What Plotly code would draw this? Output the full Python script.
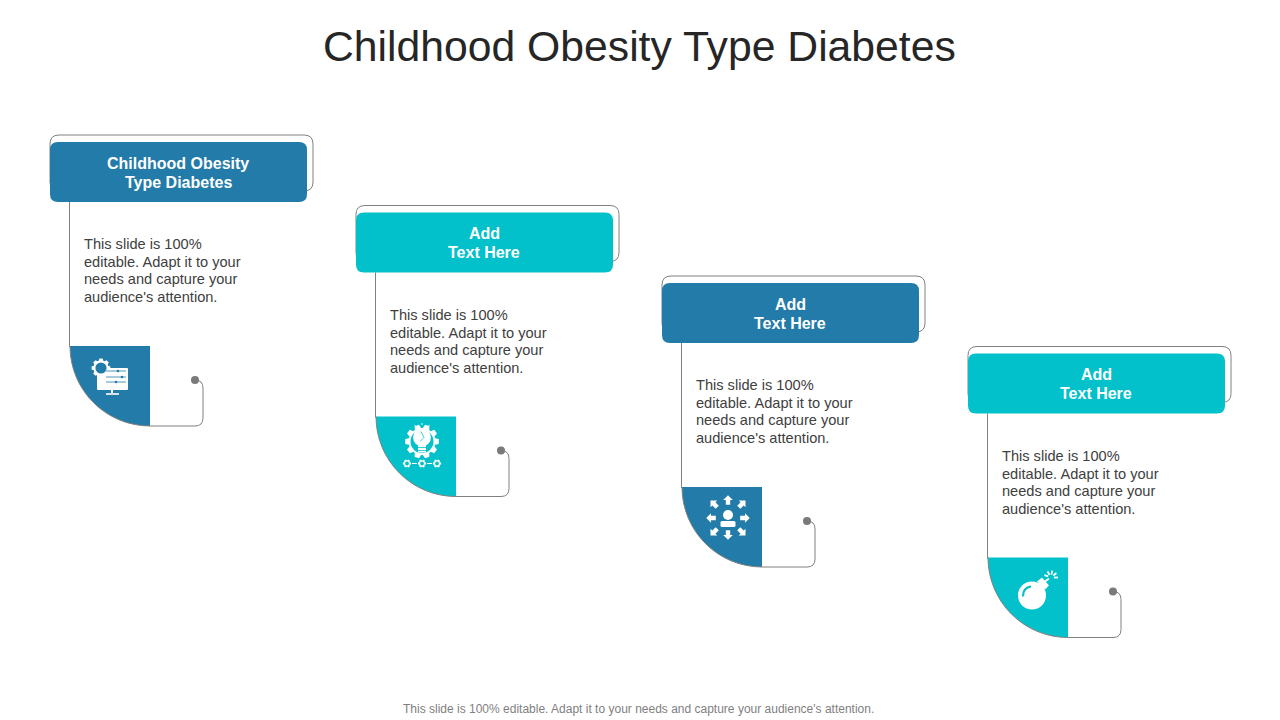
import math
import plotly.graph_objects as go

title = "Childhood Obesity Type Diabetes"
footer = "This slide is 100% editable. Adapt it to your needs and capture your audience's attention."
headers = [["Childhood Obesity", "Type Diabetes"], ["Add", "Text Here"], ["Add", "Text Here"], ["Add", "Text Here"]]
body_lines = ["This slide is 100%", "editable. Adapt it to your", "needs and capture your", "audience's attention."]
panel_x = [50, 356, 662, 968]
panel_y = [142, 212.5, 283, 353.5]
panel_colors = ["#227BA8", "#02C1CA", "#227BA8", "#02C1CA"]
line_color = "#808080"

shapes = []
notes = []


def add_path(d, fill=None, line=None, width=1):
    shapes.append(dict(type="path", path=d, fillcolor=fill if fill else "rgba(0,0,0,0)",
                       line=dict(color=line if line else "rgba(0,0,0,0)", width=width if line else 0)))


def rounded(x0, y0, x1, y1, r):
    return (f"M{x0+r},{y0} L{x1-r},{y0} Q{x1},{y0} {x1},{y0+r} L{x1},{y1-r} Q{x1},{y1} {x1-r},{y1} "
            f"L{x0+r},{y1} Q{x0},{y1} {x0},{y1-r} L{x0},{y0+r} Q{x0},{y0} {x0+r},{y0} Z")


def circle(cx, cy, r, fill=None, line=None, width=1):
    shapes.append(dict(type="circle", x0=cx-r, x1=cx+r, y0=cy-r, y1=cy+r,
                       fillcolor=fill if fill else "rgba(0,0,0,0)",
                       line=dict(color=line if line else "rgba(0,0,0,0)", width=width if line else 0)))


def gear(cx, cy, r_out, r_in, teeth, fill):
    pts = []
    for i in range(teeth):
        a = 2 * math.pi * i / teeth
        step = 2 * math.pi / teeth
        for da, r in [(-0.3, r_in), (-0.17, r_out), (0.17, r_out), (0.3, r_in)]:
            t = a + da * step * 1.3
            pts.append((cx + r * math.cos(t), cy + r * math.sin(t)))
    add_path("M" + " L".join(f"{x:.1f},{y:.1f}" for x, y in pts) + " Z", fill=fill)


def seg(x0, y0, x1, y1, color="white", width=1.5):
    shapes.append(dict(type="line", x0=x0, y0=y0, x1=x1, y1=y1, line=dict(color=color, width=width)))


def arrow(cx, cy, angle, size=4.8):
    c, s = math.cos(angle), math.sin(angle)
    local = [(size, 0), (0, -size), (0, -size*0.45), (-size, -size*0.45), (-size, size*0.45), (0, size*0.45), (0, size)]
    pts = [(cx + x*c - y*s, cy + x*s + y*c) for x, y in local]
    add_path("M" + " L".join(f"{x:.1f},{y:.1f}" for x, y in pts) + " Z", fill="white")


def icon_monitor(px, py, color):
    add_path(rounded(px+47, py+226, px+78, py+248, 1), fill="white")
    seg(px+62, py+248, px+62, py+251, width=2)
    seg(px+56, py+252, px+69, py+252, width=1.6)
    gear(px+51, py+226, 9.5, 7.5, 8, "white")
    circle(px+51, py+226, 5.6, fill=color)
    for yy, xx in [(py+229, px+68), (py+235, px+72), (py+240, px+66)]:
        seg(px+56, yy, px+76, yy, color=color, width=0.8)
        circle(xx, yy, 1.3, fill=color)


def icon_bulb(px, py, color):
    cx = px + 66
    gear(cx, py + 229, 17, 13.5, 10, "white")
    circle(cx, py + 229, 11.5, fill=color)
    circle(cx, py + 225, 9, fill="white")
    add_path(f"M{cx-4},{py+231} L{cx+4},{py+231} L{cx+4},{py+240} L{cx-4},{py+240} Z", fill="white")
    seg(cx-4, py+235, cx+4, py+235, color=color, width=0.8)
    seg(cx-4, py+238, cx+4, py+238, color=color, width=0.8)
    seg(cx-1, py+219, cx+2, py+225, color=color, width=0.8)
    seg(cx+2, py+225, cx-2, py+229, color=color, width=0.8)
    for a in [-150, -120, -90, -60, -30]:
        t = math.radians(a)
        seg(cx+12.5*math.cos(t), py+225+12.5*math.sin(t), cx+14.5*math.cos(t), py+225+14.5*math.sin(t), width=0.9)
    for dx in [-15, 0, 15]:
        gear(cx+dx, py+251, 4.2, 3.2, 6, "white")
        circle(cx+dx, py+251, 1.9, fill=color)
    seg(cx-10, py+251, cx-5, py+251, width=1)
    seg(cx+5, py+251, cx+10, py+251, width=1)


def icon_people(px, py, color):
    cx, cy = px + 66, py + 235
    circle(cx, cy-3, 5, fill="white")
    add_path(rounded(cx-7.5, cy+3, cx+7.5, cy+9, 1.5), fill="white")
    for a, d in [(-90, 18), (-45, 20), (0, 17), (45, 20), (90, 17), (135, 20), (180, 17), (-135, 20)]:
        t = math.radians(a)
        arrow(cx + d*math.cos(t), cy + d*math.sin(t), t)


def icon_bomb(px, py, color):
    cx, cy = px + 64, py + 242
    circle(cx, cy, 14, fill="white")
    add_path(f"M{cx+5},{cy-14} L{cx+10},{cy-18} L{cx+17},{cy-10} L{cx+13},{cy-6} Z", fill="white")
    seg(cx+13, cy-14, cx+17, cy-17, width=1.6)
    add_path(f"M{cx-9},{cy+1} Q{cx-9},{cy-8} {cx-1},{cy-9}", line=color, width=2.2)
    for a in [-160, -120, -80, -40, 0]:
        t = math.radians(a)
        sx, sy = cx + 19, cy - 18
        seg(sx+3*math.cos(t), sy+3*math.sin(t), sx+7*math.cos(t), sy+7*math.sin(t), width=1.8)


icons = [icon_monitor, icon_bulb, icon_people, icon_bomb]

for x, y, color, head, icon in zip(panel_x, panel_y, panel_colors, headers, icons):
    # outline behind the header
    add_path(rounded(x, y-7, x+263, y+49, 9), line=line_color, width=1)
    add_path(rounded(x, y, x+257, y+60, 8), fill=color)
    # stem, quarter circle and tail
    seg(x+19.5, y+60, x+19.5, y+205, color=line_color, width=1)
    k = 80 * 0.5523
    arc = f"C{x+20},{y+204+k} {x+100-k},{y+284} {x+100},{y+284}"
    add_path(f"M{x+20},{y+204} L{x+100},{y+204} L{x+100},{y+284} C{x+100-k},{y+284} {x+20},{y+204+k} {x+20},{y+204} Z", fill=color)
    add_path(f"M{x+20},{y+204} {arc}", line=line_color, width=1)
    add_path(f"M{x+100},{y+284} L{x+145},{y+284} Q{x+153},{y+284} {x+153},{y+276} "
             f"L{x+153},{y+246} Q{x+153},{y+238} {x+145},{y+238}", line=line_color, width=1)
    circle(x+145, y+238, 4, fill="#7A7A7A")
    icon(x, y, color)
    for dy, txt in zip([21, 40], head):
        notes.append(dict(x=x+128, y=y+dy, text=f"<b>{txt}</b>", showarrow=False, xanchor="center", yanchor="middle",
                          font=dict(family="Liberation Sans", size=16, color="white")))
    for dy, txt in zip([102, 120, 137, 155], body_lines):
        notes.append(dict(x=x+32, y=y+dy, text=txt, showarrow=False, xanchor="left", yanchor="middle",
                          font=dict(family="Liberation Sans", size=14.6, color="#404040")))

notes.append(dict(x=639, y=46, text=title, showarrow=False, xanchor="center", yanchor="middle",
                  font=dict(family="Liberation Sans", size=42.7, color="#262626")))
notes.append(dict(x=638.5, y=708.5, text=footer, showarrow=False, xanchor="center", yanchor="middle",
                  font=dict(family="Liberation Sans", size=12, color="#7F7F7F")))

fig = go.Figure()
fig.update_layout(
    width=1280, height=720, margin=dict(l=0, r=0, t=0, b=0),
    paper_bgcolor="white", plot_bgcolor="white", showlegend=False,
    shapes=shapes, annotations=notes,
    xaxis=dict(range=[0, 1280], visible=False, fixedrange=True),
    yaxis=dict(range=[720, 0], visible=False, fixedrange=True),
)
# page margin would push everything 8px off
fig.write_html("out.html", config=dict(displayModeBar=False),
               post_script="document.body.style.margin='0';document.body.style.overflow='hidden';")
